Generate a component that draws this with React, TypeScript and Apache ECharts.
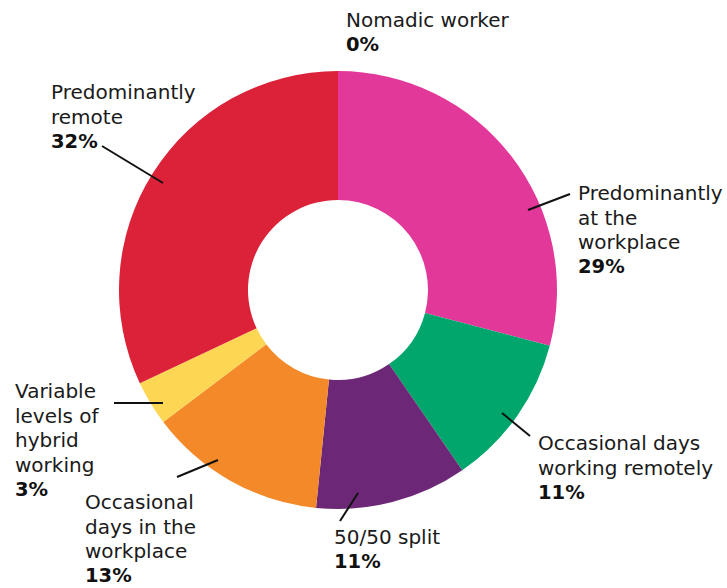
import React, { useEffect, useRef } from "react";
import * as echarts from "echarts";

const categories = [
  "Predominantly\nat the\nworkplace",
  "Occasional days\nworking remotely",
  "50/50 split",
  "Occasional\ndays in the\nworkplace",
  "Variable\nlevels of\nhybrid\nworking",
  "Predominantly\nremote",
  "Nomadic worker",
];
const values = [29.1, 11.3, 11.2, 13.1, 3.3, 32.0, 0];
const colors = ["#E2389A", "#00A66B", "#6C2877", "#F4892A", "#FDD654", "#DB2238", "#999999"];

// label anchor (left x, first-line centre y) and leader lines
const labelPos: [number, number][] = [
  [578, 193],
  [538, 443],
  [334, 537],
  [85, 502],
  [15, 391],
  [51, 92],
  [346, 20],
];
const leaderLines: ([number, number, number, number] | null)[] = [
  [528, 210, 570, 194],
  [502, 413, 530, 436],
  [358, 493, 340, 521],
  [218, 460, 177, 477],
  [114, 403, 163, 403],
  [102, 146, 163, 183],
  null,
];

const FONT = '"DejaVu Sans", sans-serif';
const LH = 24.5;

export default function App() {
  const ref = useRef<HTMLDivElement>(null);
  useEffect(() => {
    const chart = echarts.init(ref.current!, null, { renderer: "svg" });
    const graphic: any[] = [];
    categories.forEach((name, i) => {
      const [x, y] = labelPos[i];
      const lines = name.split("\n");
      lines.forEach((ln, j) => {
        graphic.push({
          type: "text",
          style: {
            text: ln,
            x,
            y: y + j * LH,
            fill: "#1a1a1a",
            font: `20px ${FONT}`,
            verticalAlign: "middle",
            align: "left",
          },
        });
      });
      graphic.push({
        type: "text",
        style: {
          text: `${Math.round(values[i])}%`,
          x,
          y: y + lines.length * LH,
          fill: "#111",
          font: `bold 19.5px ${FONT}`,
          verticalAlign: "middle",
          align: "left",
        },
      });
      const l = leaderLines[i];
      if (l) {
        graphic.push({
          type: "line",
          z: 100,
          shape: { x1: l[0], y1: l[1], x2: l[2], y2: l[3] },
          style: { stroke: "#111", lineWidth: 2 },
        });
      }
    });
    chart.setOption({
      animation: false,
      backgroundColor: "#ffffff",
      series: [
        {
          type: "pie",
          center: [338, 290],
          radius: [90, 219],
          startAngle: 90,
          clockwise: true,
          avoidLabelOverlap: false,
          label: { show: false },
          labelLine: { show: false },
          emphasis: { disabled: true },
          itemStyle: { borderWidth: 0 },
          data: categories.map((name, i) => ({
            name,
            value: values[i],
            itemStyle: { color: colors[i] },
          })),
        },
      ],
      graphic,
    });
    return () => chart.dispose();
  }, []);
  return (
    <div
      ref={ref}
      style={{ position: "fixed", left: 0, top: 0, width: 727, height: 588 }}
    />
  );
}
